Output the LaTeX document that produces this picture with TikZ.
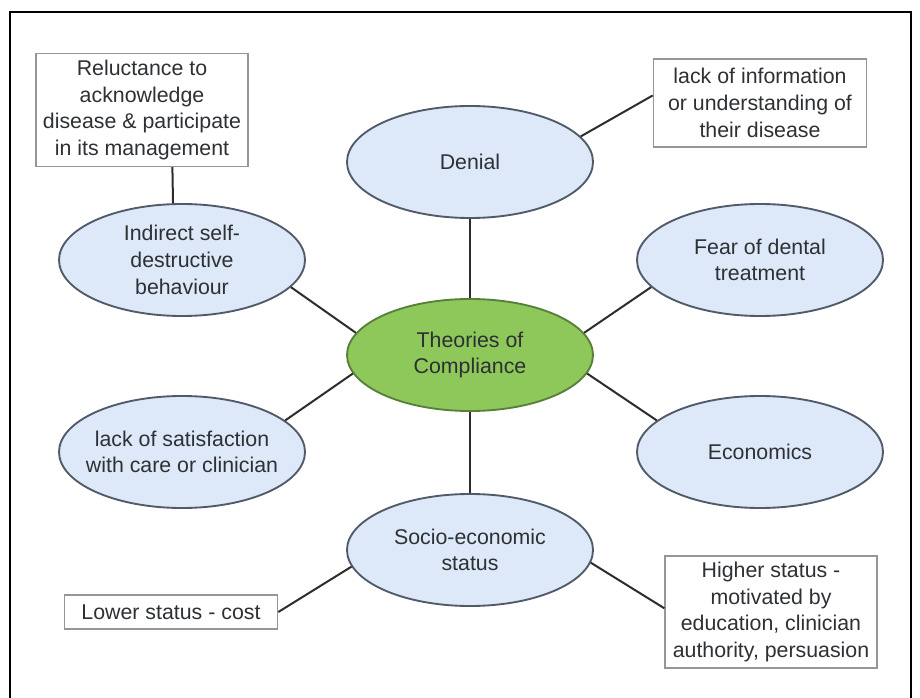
\documentclass[tikz,border=0pt]{standalone}
\usepackage{fontspec}
\setmainfont{Liberation Sans}
\usetikzlibrary{shapes.geometric}
\definecolor{ellfill}{RGB}{221,233,248}
\definecolor{ellline}{RGB}{80,90,104}
\definecolor{grnfill}{RGB}{142,199,90}
\definecolor{grnline}{RGB}{88,128,60}
\definecolor{boxline}{RGB}{150,150,150}
\definecolor{txt}{RGB}{45,48,52}
\definecolor{conn}{RGB}{45,45,45}
\begin{document}
\begin{tikzpicture}[x=0.75pt,y=-0.75pt,
  ell/.style={ellipse,draw=ellline,fill=ellfill,line width=1.4pt,minimum width=184.5pt,minimum height=84pt,inner sep=0pt},
  grn/.style={ell,draw=grnline,fill=grnfill},
  lbl/.style={align=center,text=txt,font=\fontsize{16}{20}\selectfont,inner sep=0pt},
  infobox/.style={rectangle,draw=boxline,fill=white,line width=1pt,align=center,text=txt,font=\fontsize{16}{20}\selectfont,inner sep=0pt},
  link/.style={draw=conn,line width=1.5pt}]
\useasboundingbox (0,0) rectangle (920,698);
\fill[white] (0,0) rectangle (920,698);
\draw[line width=2.2pt,black] (10,698) -- (10,12) -- (911,12) -- (911,698);

% ellipses
\node[ell] (den) at (470,162) {};
\node[grn] (th) at (470,355) {};
\node[ell] (ind) at (182,260) {};
\node[ell] (fear) at (760,260) {};
\node[ell] (sat) at (182,452) {};
\node[ell] (eco) at (760,452) {};
\node[ell] (soc) at (470,550) {};

% boxes
\node[infobox,minimum width=159pt,minimum height=84.75pt] (rel) at (142,110) {Reluctance to\\acknowledge\\disease \& participate\\in its management};
\node[infobox,minimum width=160pt,minimum height=66pt] (info) at (760,103) {lack of information\\or understanding of\\their disease};
\node[infobox,minimum width=160pt,minimum height=25.5pt] (low) at (171,612) {Lower status - cost};
\node[infobox,minimum width=159pt,minimum height=84pt] (hi) at (771,612) {Higher status -\\motivated by\\education, clinician\\authority, persuasion};

% ellipse texts
\node[lbl] (den-t) at (den) {Denial};
\node[lbl] (th-t) at (th) {Theories of\\Compliance};
\node[lbl] (ind-t) at (ind) {Indirect self-\\destructive\\behaviour};
\node[lbl] (fear-t) at (fear) {Fear of dental\\treatment};
\node[lbl] (sat-t) at (sat) {lack of satisfaction\\with care or clinician};
\node[lbl] (eco-t) at (eco) {Economics};
\node[lbl] (soc-t) at (soc) {Socio-economic\\status};

% connectors
\path[link] (rel.-62) -- (ind.99);
\path[link] (den.13) -- (info.176);
\path[link] (den.south) -- (th.north);
\path[link] (ind.-14) -- (th.169);
\path[link] (fear.194) -- (th.11);
\path[link] (sat.17) -- (th.189);
\path[link] (th.-9) -- (eco.163);
\path[link] (th.south) -- (soc.north);
\path[link] (soc.188) -- (low.east);
\path[link] (soc.-6) -- (hi.178);
\end{tikzpicture}
\end{document}
